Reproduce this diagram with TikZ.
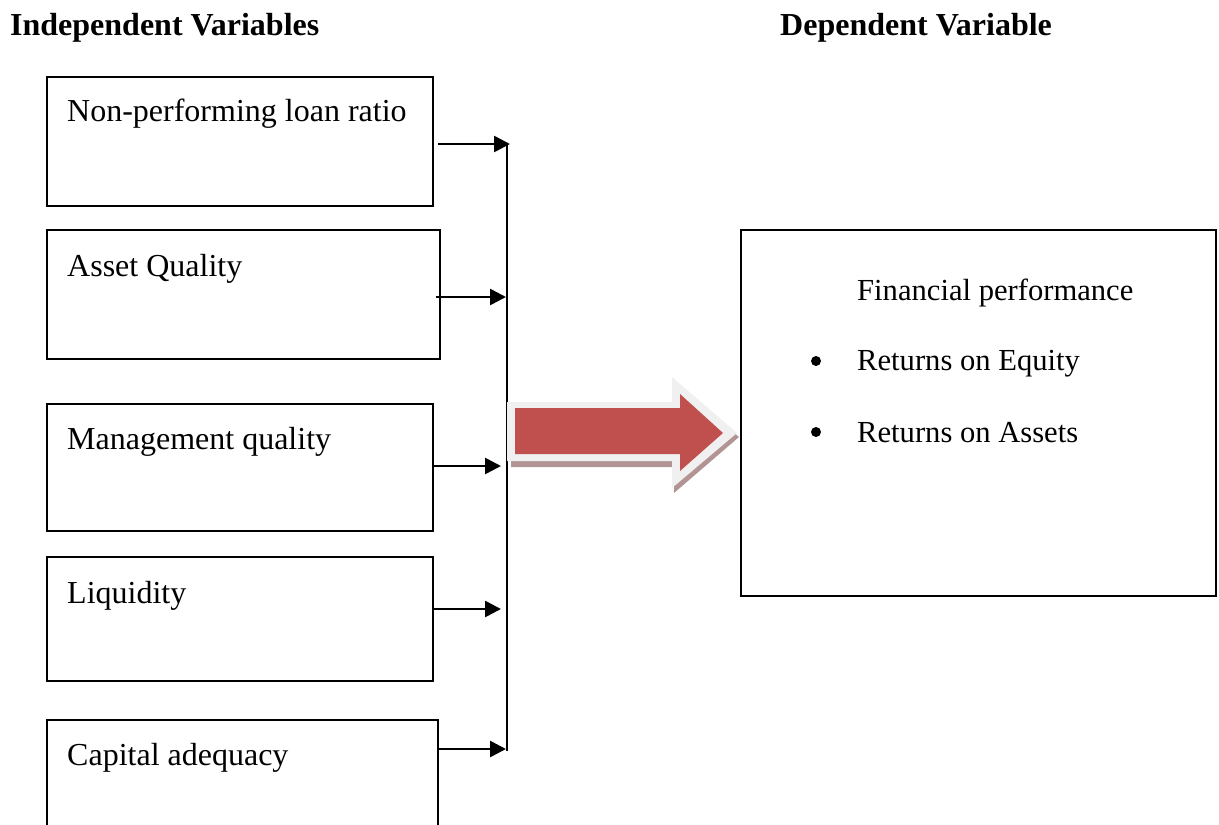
\documentclass[tikz,border=0pt]{standalone}
\usepackage{fontspec}
\setmainfont{Liberation Serif}
\usetikzlibrary{arrows.meta}
\definecolor{arrowred}{HTML}{C0504D}
\definecolor{arrowglow}{HTML}{F0F0F0}
\definecolor{arrowshadow}{HTML}{B39494}
\tikzset{
  varbox/.style={draw=black, line width=2pt, anchor=north west, inner sep=0pt},
  lbl/.style={anchor=base west, inner sep=0pt, font=\fontsize{32}{38}\selectfont},
  deplbl/.style={anchor=base west, inner sep=0pt, font=\fontsize{30.6}{36}\selectfont},
  ttl/.style={anchor=base west, inner sep=0pt, font=\fontsize{32}{38}\selectfont\bfseries},
  feed/.style={line width=2.6pt, -{Triangle[length=16pt,width=16pt]}},
  bus/.style={line width=2.2pt}
}
\begin{document}
\begin{tikzpicture}[x=1pt,y=-1pt]
\useasboundingbox (0,0) rectangle (1219,825);
\fill[white] (0,0) rectangle (1219,825);
% titles
\node[ttl] (tind) at (10,35) {Independent Variables};
\node[ttl] (tdep) at (780,35) {Dependent Variable};
% boxes
\node[varbox, minimum width=386pt, minimum height=129pt] (b1) at (46,76) {};
\node[varbox, minimum width=393pt, minimum height=129pt] (b2) at (46,229) {};
\node[varbox, minimum width=386pt, minimum height=127pt] (b3) at (46,403) {};
\node[varbox, minimum width=386pt, minimum height=124pt] (b4) at (46,556) {};
\node[varbox, minimum width=391pt, minimum height=140pt] (b5) at (46,719) {};
\node[lbl] (l1) at (67,121) {Non-performing loan ratio};
\node[lbl] (l2) at (67,276) {Asset Quality};
\node[lbl] (l3) at (67,449) {Management quality};
\node[lbl] (l4) at (67,603) {Liquidity};
\node[lbl] (l5) at (67,765) {Capital adequacy};
% bus coordinates
\coordinate (s1) at (438,144); \coordinate (e1) at (510,144);
\coordinate (s2) at (436,297); \coordinate (e2) at (506,297);
\coordinate (s3) at (432,466); \coordinate (e3) at (501,466);
\coordinate (s4) at (432,609); \coordinate (e4) at (501,609);
\coordinate (s5) at (438,749); \coordinate (e5) at (506,749);
\coordinate (btop) at (507,143); \coordinate (bbot) at (507,751);
\draw[bus] (btop) -- (bbot);
\draw[feed] (s1) -- (e1);
\draw[feed] (s2) -- (e2);
\draw[feed] (s3) -- (e3);
\draw[feed] (s4) -- (e4);
\draw[feed] (s5) -- (e5);
% big arrow
\fill[arrowshadow] (511,410) -- (674,410) -- (674,383) -- (739,437) -- (674,493) -- (674,467) -- (511,467) -- cycle;
\fill[arrowglow] (507,402) -- (672,402) -- (672,377) -- (737,433) -- (672,488) -- (672,461) -- (507,461) -- cycle;
\fill[arrowred] (515,408) -- (680,408) -- (680,394) -- (723,433) -- (680,471) -- (680,454) -- (515,454) -- cycle;
% dependent box
\node[varbox, minimum width=475pt, minimum height=366pt] (dep) at (740,229) {};
\node[deplbl] (fp) at (857,300) {Financial performance};
\node[deplbl] (roe) at (857,370) {Returns on Equity};
\node[deplbl] (roa) at (857,442) {Returns on Assets};
\fill (816,361) circle (5pt);
\fill (816,432) circle (5pt);
\end{tikzpicture}
\end{document}
